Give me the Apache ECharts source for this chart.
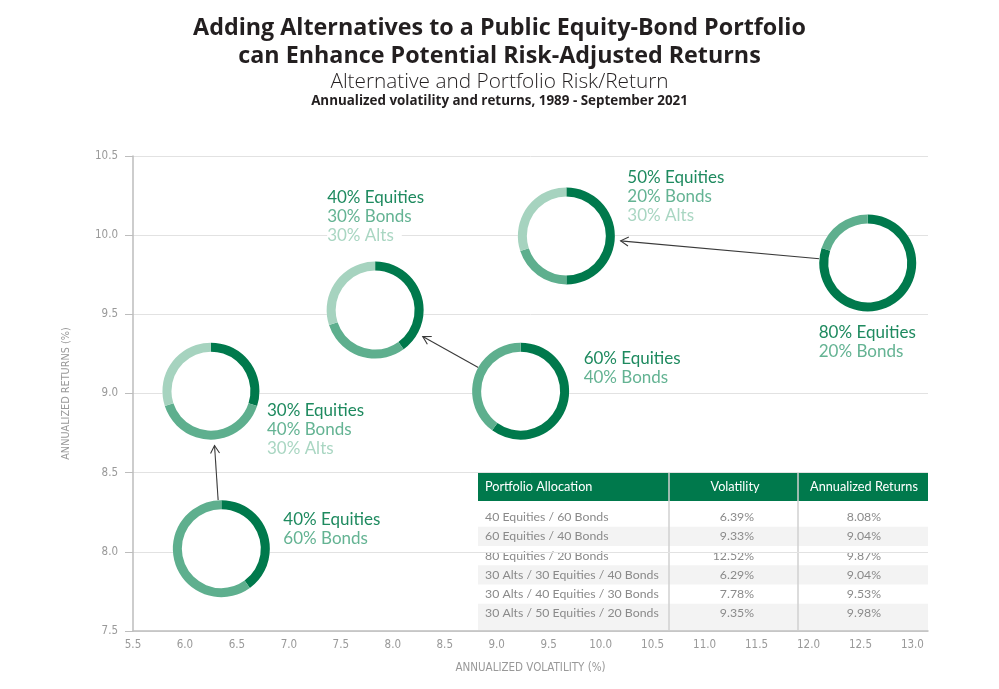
<!DOCTYPE html>
<html>
<head>
<meta charset="utf-8">
<script src="https://cdn.jsdelivr.net/npm/echarts@6.0.0/dist/echarts.min.js"></script>
<style>
html,body{margin:0;padding:0;background:#fff;}
#chart{width:999px;height:689px;}
</style>
</head>
<body>
<div id="chart"></div>
<script>
// ---------- DATA ----------
const titleLines = ['Adding Alternatives to a Public Equity-Bond Portfolio', 'can Enhance Potential Risk-Adjusted Returns'];
const subTitle = 'Alternative and Portfolio Risk/Return';
const subNote = 'Annualized volatility and returns, 1989 - September 2021';
const xAxisName = 'ANNUALIZED VOLATILITY (%)';
const yAxisName = 'ANNUALIZED RETURNS (%)';

// donut markers (position: volatility, return)
const donutVol = [6.35, 6.25, 7.83, 9.23, 9.67, 12.57];
const donutRet = [8.02, 9.015, 9.527, 9.015, 9.995, 9.824];
const equityPct = [40, 30, 40, 60, 50, 80];
const bondPct   = [60, 40, 30, 40, 20, 20];
const altPct    = [0, 30, 30, 0, 30, 0];
// arrows: from donut index -> to donut index
const arrowFrom = [0, 3, 5];
const arrowTo   = [1, 2, 4];

// table
const tableHeader = ['Portfolio Allocation', 'Volatility', 'Annualized Returns'];
const tableAlloc = ['40 Equities / 60 Bonds', '60 Equities / 40 Bonds', '80 Equities / 20 Bonds',
  '30 Alts / 30 Equities / 40 Bonds', '30 Alts / 40 Equities / 30 Bonds', '30 Alts / 50 Equities / 20 Bonds'];
const tableVol = [6.39, 9.33, 12.52, 6.29, 7.78, 9.35];
const tableRet = [8.08, 9.04, 9.87, 9.04, 9.53, 9.98];

// ---------- STYLE ----------
const C_EQ = '#00794C', C_BD = '#5EAF8E', C_AL = '#A6D3BF';
const T_EQ = '#1E8A5F', T_BD = '#64B393', T_AL = '#A9D6C2';
const R_OUT = 48.5, RING = 9;
// label offsets (px from donut centre) and line gap
const labelDX = [62, 56, -48, 63, 61, -49];
const labelDY = [-29, 19, -113, -33, -58, 69];
const LINE_H = 19;
const FONT_LBL = '17px Lato';

const chart = echarts.init(document.getElementById('chart'));

const donutData = donutVol.map((v, i) => [v, donutRet[i], equityPct[i], bondPct[i], altPct[i]]);
const arrowData = arrowFrom.map((f, i) => [donutVol[f], donutRet[f], donutVol[arrowTo[i]], donutRet[arrowTo[i]]]);

function renderDonut(params, api) {
  const i = params.dataIndex;
  const c = api.coord([api.value(0), api.value(1)]);
  const e = api.value(2), b = api.value(3), a = api.value(4);
  const tot = e + b + a;
  const children = [{ type: 'circle', shape: { cx: c[0], cy: c[1], r: R_OUT }, style: { fill: '#fff' } }];
  let ang = -Math.PI / 2;
  [[e, C_EQ], [b, C_BD], [a, C_AL]].forEach(([v, col]) => {
    if (v > 0) {
      const end = ang + v / tot * Math.PI * 2;
      children.push({ type: 'sector', shape: { cx: c[0], cy: c[1], r0: R_OUT - RING, r: R_OUT, startAngle: ang, endAngle: end, clockwise: true }, style: { fill: col } });
      ang = end;
    }
  });
  const lines = [[e + '% Equities', T_EQ]];
  lines.push([b + '% Bonds', T_BD]);
  if (a > 0) lines.push([a + '% Alts', T_AL]);
  lines.forEach(([t, col], k) => {
    children.push({ type: 'text', style: { text: t, x: c[0] + labelDX[i], y: c[1] + labelDY[i] + k * LINE_H,
      fill: col, font: FONT_LBL, align: 'left', verticalAlign: 'middle', backgroundColor: '#fff', padding: [1, 8, 1, 0] } });
  });
  return { type: 'group', children };
}

function renderArrow(params, api) {
  const p0 = api.coord([api.value(0), api.value(1)]);
  const p1 = api.coord([api.value(2), api.value(3)]);
  const dx = p1[0] - p0[0], dy = p1[1] - p0[1];
  const len = Math.sqrt(dx * dx + dy * dy);
  const ux = dx / len, uy = dy / len;
  const s = [p0[0] + ux * R_OUT, p0[1] + uy * R_OUT];
  const gap = R_OUT + 6;
  const t = [p1[0] - ux * gap, p1[1] - uy * gap];
  const hl = 9, ha = Math.PI / 6;
  const back = Math.atan2(-uy, -ux);
  const h1 = [t[0] + hl * Math.cos(back + ha), t[1] + hl * Math.sin(back + ha)];
  const h2 = [t[0] + hl * Math.cos(back - ha), t[1] + hl * Math.sin(back - ha)];
  const st = { stroke: '#3a3a3a', lineWidth: 1.1, fill: null };
  return { type: 'group', children: [
    { type: 'line', shape: { x1: s[0], y1: s[1], x2: t[0], y2: t[1] }, style: st },
    { type: 'polyline', shape: { points: [h1, t, h2] }, style: st }
  ] };
}

// ---------- TABLE (graphic) ----------
const TBL_L = 478, TBL_R = 928, TBL_T = 473, HEAD_H = 28, ROW0 = 517, ROW_H = 19.3;
const COL1 = 669, COL2 = 798;
const tableEls = [];
tableEls.push({ type: 'rect', shape: { x: TBL_L, y: TBL_T, width: TBL_R - TBL_L, height: 631 - TBL_T - 1 }, style: { fill: '#fff' } });
tableEls.push({ type: 'rect', shape: { x: TBL_L, y: TBL_T, width: TBL_R - TBL_L, height: HEAD_H }, style: { fill: '#00794C' } });
tableAlloc.forEach((t, i) => {
  const cy = ROW0 + i * ROW_H;
  if (i % 2 === 1) {
    tableEls.push({ type: 'rect', shape: { x: TBL_L, y: cy - ROW_H / 2, width: TBL_R - TBL_L, height: i === tableAlloc.length - 1 ? 630 - (cy - ROW_H / 2) : ROW_H }, style: { fill: '#f3f3f3' } });
  }
});
tableEls.push({ type: 'line', shape: { x1: COL1, y1: TBL_T, x2: COL1, y2: 630 }, style: { stroke: '#d0d0d0', lineWidth: 1.5 } });
tableEls.push({ type: 'line', shape: { x1: COL2, y1: TBL_T, x2: COL2, y2: 630 }, style: { stroke: '#d0d0d0', lineWidth: 1.5 } });
const headFont = '12.7px Lato';
tableEls.push({ type: 'text', style: { text: tableHeader[0], x: 485, y: TBL_T + HEAD_H / 2, fill: '#fff', font: headFont, align: 'left', verticalAlign: 'middle' } });
tableEls.push({ type: 'text', style: { text: tableHeader[1], x: 735, y: TBL_T + HEAD_H / 2, fill: '#fff', font: headFont, align: 'center', verticalAlign: 'middle' } });
tableEls.push({ type: 'text', style: { text: tableHeader[2], x: 864, y: TBL_T + HEAD_H / 2, fill: '#fff', font: headFont, align: 'center', verticalAlign: 'middle' } });
const rowFont = '12.3px Lato';
tableAlloc.forEach((t, i) => {
  const cy = ROW0 + i * ROW_H;
  tableEls.push({ type: 'text', style: { text: t, x: 485, y: cy, fill: '#8a8a8a', font: rowFont, align: 'left', verticalAlign: 'middle' } });
  tableEls.push({ type: 'text', style: { text: tableVol[i].toFixed(2) + '%', x: 754, y: cy, fill: '#8a8a8a', font: rowFont, align: 'right', verticalAlign: 'middle' } });
  tableEls.push({ type: 'text', style: { text: tableRet[i].toFixed(2) + '%', x: 881, y: cy, fill: '#8a8a8a', font: rowFont, align: 'right', verticalAlign: 'middle' } });
});

const titleEls = [
  { type: 'text', style: { text: titleLines[0], x: 499.5, y: 28, fill: '#231f20', font: 'bold 23.3px "Open Sans"', align: 'center', verticalAlign: 'middle' } },
  { type: 'text', style: { text: titleLines[1], x: 499.5, y: 56, fill: '#231f20', font: 'bold 23.3px "Open Sans"', align: 'center', verticalAlign: 'middle' } },
  { type: 'text', style: { text: subTitle, x: 499.5, y: 82, fill: '#231f20', font: '300 20.8px "Open Sans"', align: 'center', verticalAlign: 'middle' } },
  { type: 'text', style: { text: subNote, x: 499.5, y: 101, fill: '#231f20', font: 'bold 13.4px "Open Sans"', align: 'center', verticalAlign: 'middle' } }
];

const isHalf = v => Math.abs(v * 2 - Math.round(v * 2)) < 1e-6;

chart.setOption({
  backgroundColor: '#fff',
  animation: false,
  grid: { left: 133, right: 71, top: 156, bottom: 58, containLabel: false },
  xAxis: {
    type: 'value', min: 5.5, max: 13.15, interval: 0.5,
    name: xAxisName, nameLocation: 'middle', nameGap: 31,
    nameTextStyle: { color: '#999', fontSize: 11.5, fontFamily: 'DejaVu Sans Condensed' },
    axisLine: { show: true, lineStyle: { color: '#bdbdbd', width: 1.5 } },
    axisTick: { show: false },
    splitLine: { show: false },
    axisLabel: { color: '#999', fontSize: 11.5, fontFamily: 'DejaVu Sans Condensed', margin: 8,
      formatter: v => isHalf(v) ? v.toFixed(1) : '' }
  },
  yAxis: {
    type: 'value', min: 7.5, max: 10.5, interval: 0.5,
    name: yAxisName, nameLocation: 'middle', nameGap: 61,
    nameTextStyle: { color: '#999', fontSize: 10.8, fontFamily: 'DejaVu Sans Condensed' },
    axisLine: { show: true, lineStyle: { color: '#bdbdbd', width: 1.5 } },
    axisTick: { show: true, length: 8, lineStyle: { color: '#bdbdbd' } },
    splitLine: { show: true, lineStyle: { color: '#e2e2e2', width: 1 } },
    axisLabel: { color: '#999', fontSize: 11.5, fontFamily: 'DejaVu Sans Condensed', margin: 15,
      formatter: v => v.toFixed(1) }
  },
  graphic: [
    { type: 'group', z: 5, children: tableEls },
    { type: 'group', z: 5, children: titleEls }
  ],
  series: [
    { type: 'custom', name: 'arrows', renderItem: renderArrow, data: arrowData, clip: false, z: 3 },
    { type: 'custom', name: 'portfolios', renderItem: renderDonut, data: donutData, clip: false, z: 4 }
  ]
});
</script>
</body>
</html>
